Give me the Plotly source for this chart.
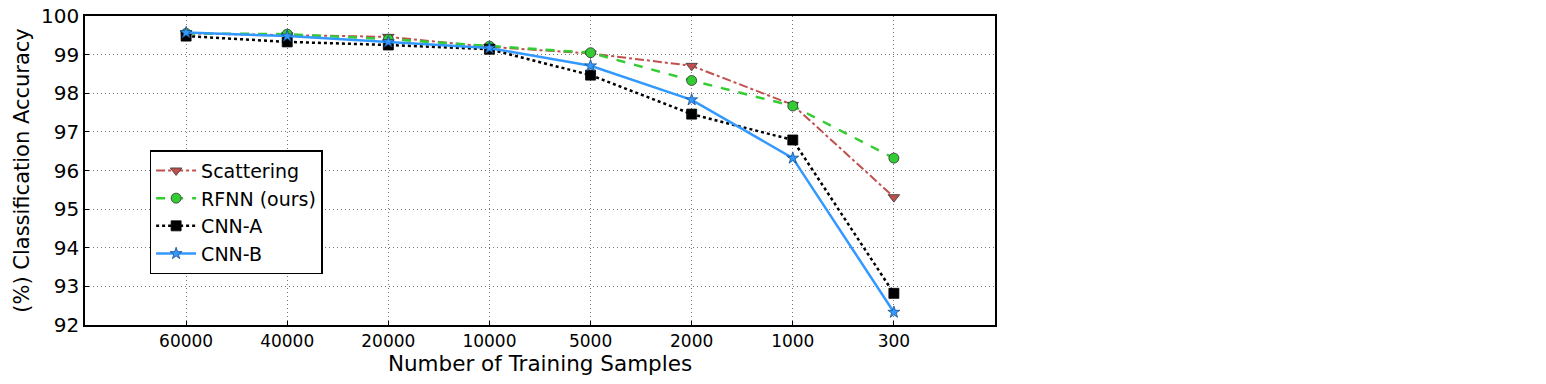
import plotly.graph_objects as go

categories = ["60000", "40000", "20000", "10000", "5000", "2000", "1000", "300"]
scattering = [99.55, 99.50, 99.46, 99.20, 99.03, 98.71, 97.70, 95.31]
rfnn = [99.55, 99.53, 99.40, 99.22, 99.05, 98.33, 97.67, 96.32]
cnn_a = [99.48, 99.33, 99.25, 99.14, 98.47, 97.46, 96.79, 92.82]
cnn_b = [99.57, 99.48, 99.33, 99.17, 98.71, 97.83, 96.32, 92.33]

x = list(range(len(categories)))
FONT = "DejaVu Sans"

fig = go.Figure()
fig.add_trace(go.Scatter(x=x, y=scattering, name="Scattering", mode="lines+markers",
                         line=dict(color="#C0504D", width=2, dash="dashdot"),
                         marker=dict(symbol="triangle-down", size=10, color="#C0504D",
                                     line=dict(color="#333", width=0.8))))
fig.add_trace(go.Scatter(x=x, y=rfnn, name="RFNN (ours)", mode="lines+markers",
                         line=dict(color="#33CC33", width=2.5, dash="dash"),
                         marker=dict(symbol="circle", size=10, color="#33CC33",
                                     line=dict(color="#333", width=0.8))))
fig.add_trace(go.Scatter(x=x, y=cnn_a, name="CNN-A", mode="lines+markers",
                         line=dict(color="black", width=2.5, dash="dot"),
                         marker=dict(symbol="square", size=10, color="black",
                                     line=dict(color="black", width=0.8))))
fig.add_trace(go.Scatter(x=x, y=cnn_b, name="CNN-B", mode="lines+markers",
                         line=dict(color="#3399FF", width=2.5),
                         marker=dict(symbol="star", size=9, color="#3399FF",
                                     line=dict(color="#1a4f8a", width=0.8))))

fig.update_layout(
    width=1546, height=384,
    margin=dict(l=85, r=551, t=16, b=59),
    paper_bgcolor="white", plot_bgcolor="white",
    font=dict(family=FONT, color="black"),
    showlegend=True,
    legend=dict(x=0.071, y=0.566, xanchor="left", yanchor="top",
                bordercolor="black", borderwidth=1.5, bgcolor="white",
                font=dict(size=19, family=FONT), tracegroupgap=0,
                itemwidth=40),
    xaxis=dict(range=[-1, 8], tickmode="array", tickvals=x, ticktext=categories,
               showgrid=True, gridcolor="#777", griddash="1px,3px", gridwidth=1,
               showline=True, linecolor="black", linewidth=1.5, mirror=True,
               ticks="inside", ticklen=4, tickcolor="black",
               tickfont=dict(size=17, family=FONT), automargin=False,
               ticklabeloverflow="allow",
               title=dict(text="Number of Training Samples", font=dict(size=21.5, family=FONT), standoff=4),
               zeroline=False),
    yaxis=dict(range=[92, 100], dtick=1, tick0=92,
               showgrid=True, gridcolor="#777", griddash="1px,3px", gridwidth=1,
               showline=True, linecolor="black", linewidth=1.5, mirror=True,
               ticks="inside", ticklen=4, tickcolor="black",
               tickfont=dict(size=20, family=FONT), automargin=False,
               ticklabeloverflow="allow",
               title=dict(text="(%) Classification Accuracy", font=dict(size=21, family=FONT), standoff=6),
               zeroline=False),
)

fig.write_html("out.html", config={"displayModeBar": False},
               post_script="document.body.style.margin='0';document.body.style.overflow='hidden';")
